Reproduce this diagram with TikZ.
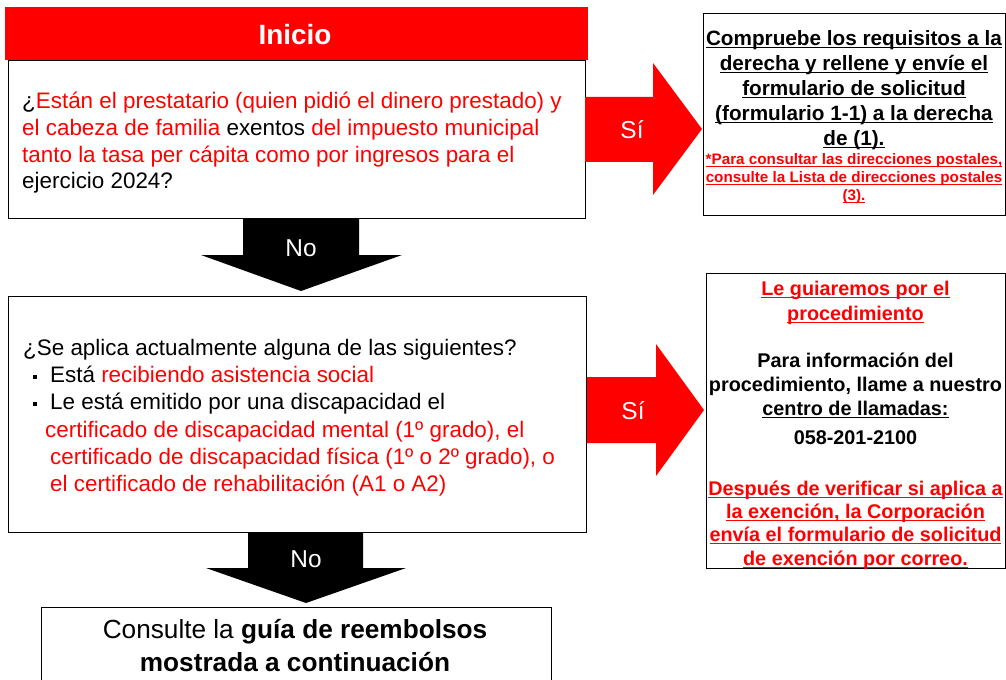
\documentclass[tikz,border=0pt]{standalone}
\usepackage{fontspec}
\setmainfont{Liberation Sans}
\usepackage{xcolor}
\usetikzlibrary{positioning,calc}
\definecolor{inired}{RGB}{255,0,0}
\newcommand\qfont{\fontsize{22.5}{27.3}\selectfont}
\newcommand\sidefont{\fontsize{20.8}{25}\selectfont\bfseries}
\newcommand\bfont{\fontsize{19.9}{25}\selectfont\bfseries}
\newcommand\notefont{\fontsize{15.3}{18}\selectfont\bfseries}
\newcommand\lblfont{\fontsize{24.5}{28}\selectfont}
\newcommand\qbul{\rule[4bp]{3.5bp}{3.5bp}}
\newcommand\rd[1]{\textcolor{inired}{#1}}
\newlength\undlw
\newcommand\undl[1]{\settowidth\undlw{#1}\rlap{#1}\rule[-2.6bp]{\undlw}{1bp}}
\tikzset{
  fbox/.style={draw=black, line width=1.4pt, fill=white, inner sep=0pt, anchor=north west},
  hdr/.style={fill=inired, inner sep=0pt, anchor=north west},
  txt/.style={inner sep=0pt, align=left, font=\qfont, anchor=base west},
  side/.style={inner sep=0pt, align=center, font=\sidefont, anchor=base},
  note/.style={inner sep=0pt, align=center, font=\notefont, anchor=base, text=inired},
  noarr/.style={fill=black},
  siarr/.style={fill=inired},
  lbl/.style={text=white, inner sep=0pt, font=\lblfont, anchor=base}
}
\begin{document}
\begin{tikzpicture}[x=1bp, y=-1bp]
  \clip (0,0) rectangle (1006,680);
  \fill[white] (0,0) rectangle (1006,680);
  % left column (text nodes sit on the baseline of their last line)
  \node[hdr, minimum width=583bp, minimum height=53bp] (bar) at (5,7) {};
  \node[text=white, font=\fontsize{28}{32}\selectfont\bfseries, inner sep=0pt, anchor=base] (inicio) at (295,45) {Inicio};
  \node[fbox, minimum width=577bp, minimum height=158bp] (q1) at (8,60) {};
  \node[txt, font=\fontsize{22.5}{27}\selectfont] (q1t) at (22,189)
    {¿\rd{Están el prestatario (quien pidió el dinero prestado) y}\\
     \rd{el cabeza de familia} exentos \rd{del impuesto municipal}\\
     \rd{tanto la tasa per cápita como por ingresos para el}\\
     ejercicio 2024?};
  \node[fbox, minimum width=578bp, minimum height=236bp] (q2) at (8,296) {};
  \node[txt] (q2t) at (23,491.5)
    {¿Se aplica actualmente alguna de las siguientes?\\
     \makebox[27bp][l]{\hspace*{10bp}\qbul}Está \rd{recibiendo asistencia social}\\
     \makebox[27bp][l]{\hspace*{10bp}\qbul}Le está emitido por una discapacidad el\\
     \hspace*{22bp}\rd{certificado de discapacidad mental (1º grado), el}\\
     \hspace*{27bp}\rd{certificado de discapacidad física (1º o 2º grado), o}\\
     \hspace*{27bp}\rd{el certificado de rehabilitación (A1 o A2)}};
  \node[fbox, minimum width=510bp, minimum height=90bp] (fin) at (41,607) {};
  \node[inner sep=0pt, align=center, anchor=base, font=\fontsize{26.3}{33}\selectfont] (fint) at (295,671.5)
    {Consulte la \textbf{guía de reembolsos}\\ \textbf{mostrada a continuación}};
  % No arrows
  \fill[noarr] (243,218) -- (359,218) -- (359,255) -- (402,255) -- (301,291)
    -- (201,255) -- (243,255) -- cycle;
  \node[lbl] (no1) at (301,256) {No};
  \fill[noarr] (248,532) -- (363,532) -- (363,568) -- (406,568) -- (306,603)
    -- (206,568) -- (248,568) -- cycle;
  \node[lbl] (no2) at (306,567) {No};
  % right column
  \node[fbox, minimum width=302bp, minimum height=202bp] (ra) at (703,13) {};
  \node[side] (rat) at (854,145.5)
    {\undl{Compruebe los requisitos a la}\\
     \undl{derecha y rellene y envíe el}\\
     \undl{formulario de solicitud}\\
     \undl{(formulario 1-1) a la derecha}\\
     \undl{de (1).}};
  \node[note] (ran) at (854,200.5)
    {\undl{*Para consultar las direcciones postales,}\\
     \undl{consulte la Lista de direcciones postales}\\
     \undl{(3).}};
  \node[fbox, minimum width=299bp, minimum height=295bp] (rb) at (706,273) {};
  \node[side, font=\bfont, text=inired] (rb1) at (855.5,320)
    {\undl{Le guiaremos por el}\\ \undl{procedimiento}};
  \node[side, font=\fontsize{19.9}{24}\selectfont\bfseries] (rb2) at (855.5,415)
    {Para información del\\ procedimiento, llame a nuestro\\ \undl{centro de llamadas:}};
  \node[side, font=\bfont] (rb3) at (855.5,444) {058-201-2100};
  \node[side, text=inired, font=\fontsize{19.9}{23.3}\selectfont\bfseries] (rb4) at (855.5,565)
    {\undl{Después de verificar si aplica a}\\
     \undl{la exención, la Corporación}\\
     \undl{envía el formulario de solicitud}\\
     \undl{de exención por correo.}};
  % Si arrows
  \fill[siarr] (585,97) -- (653,97) -- (653,63) -- (702,129) -- (653,195)
    -- (653,162) -- (585,162) -- cycle;
  \node[lbl] (si1) at (632,139) {Sí};
  \fill[siarr] (587,377) -- (656,377) -- (656,344) -- (704,410) -- (656,476)
    -- (656,443) -- (587,443) -- cycle;
  \node[lbl] (si2) at (633,419) {Sí};
\end{tikzpicture}
\end{document}
